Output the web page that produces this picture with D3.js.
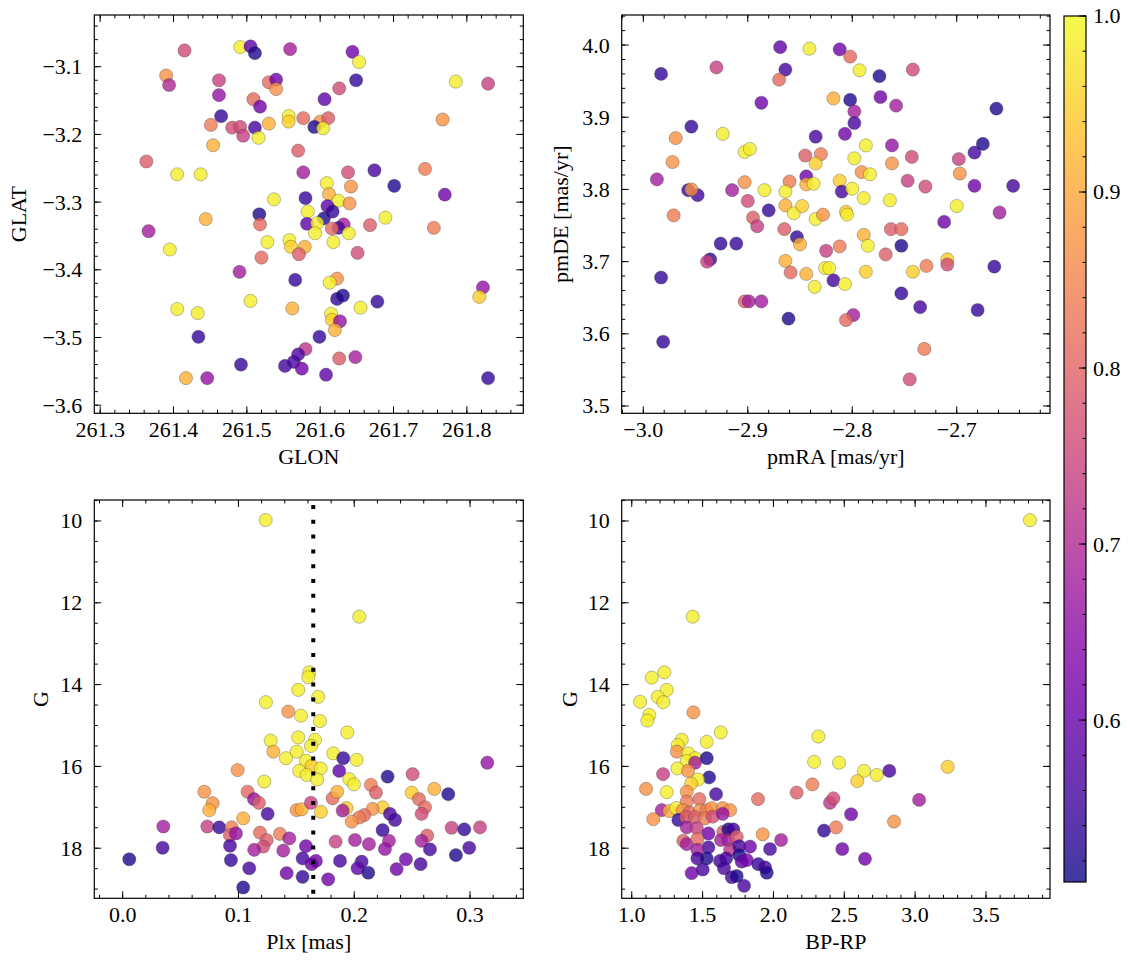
<!DOCTYPE html>
<html><head><meta charset="utf-8">
<script src="https://cdn.jsdelivr.net/npm/d3@7"></script>
<style>html,body{margin:0;padding:0;background:#fff;}svg{display:block;}
svg text{font-family:'Liberation Serif','DejaVu Serif',serif;font-size:22px;fill:#000;}</style>
</head><body>
<svg id="fig" width="1133" height="965"></svg>
<script>
// ---------- DATA: [x, y, membership probability] ----------
const glonGlat = [
[261.491,-3.071,0.985],[261.505,-3.070,0.59],[261.511,-3.080,0.52],[261.415,-3.076,0.76],[261.559,-3.074,0.68],
[261.390,-3.113,0.87],[261.394,-3.127,0.70],[261.462,-3.120,0.74],[261.462,-3.142,0.66],[261.530,-3.123,0.81],
[261.540,-3.119,0.61],[261.540,-3.133,0.87],[261.509,-3.148,0.81],[261.518,-3.159,0.61],[261.465,-3.173,0.54],
[261.451,-3.186,0.84],[261.480,-3.190,0.76],[261.491,-3.189,0.76],[261.495,-3.202,0.74],[261.511,-3.190,0.56],
[261.530,-3.184,0.91],[261.516,-3.205,0.985],[261.557,-3.173,0.985],[261.557,-3.181,0.95],[261.577,-3.176,0.81],
[261.600,-3.181,0.87],[261.592,-3.189,0.52],[261.454,-3.216,0.91],[261.570,-3.224,0.79],[261.363,-3.240,0.79],
[261.405,-3.259,0.985],[261.437,-3.259,0.985],[261.577,-3.256,0.68],[261.537,-3.296,0.985],[261.580,-3.294,0.54],
[261.517,-3.318,0.52],[261.444,-3.325,0.91],[261.518,-3.333,0.81],[261.583,-3.314,0.985],[261.582,-3.332,0.59],
[261.366,-3.343,0.68],[261.528,-3.359,0.985],[261.558,-3.356,0.985],[261.560,-3.366,0.95],[261.579,-3.366,0.91],
[261.571,-3.377,0.79],[261.395,-3.370,0.985],[261.520,-3.382,0.81],[261.490,-3.403,0.68],[261.566,-3.415,0.54],
[261.505,-3.446,0.985],[261.562,-3.457,0.91],[261.405,-3.458,0.985],[261.433,-3.464,0.985],[261.434,-3.499,0.54],
[261.580,-3.517,0.72],[261.492,-3.540,0.54],[261.552,-3.542,0.56],[261.564,-3.536,0.56],[261.570,-3.525,0.57],
[261.575,-3.546,0.61],[261.417,-3.560,0.91],[261.446,-3.560,0.66],
[261.644,-3.078,0.61],[261.653,-3.093,0.985],[261.649,-3.120,0.54],[261.626,-3.132,0.76],[261.606,-3.148,0.59],
[261.785,-3.122,0.985],[261.829,-3.125,0.74],[261.611,-3.176,0.79],[261.604,-3.191,0.985],[261.767,-3.178,0.87],
[261.638,-3.256,0.76],[261.674,-3.253,0.56],[261.743,-3.251,0.84],[261.609,-3.272,0.985],[261.642,-3.277,0.87],
[261.701,-3.276,0.52],[261.612,-3.288,0.91],[261.770,-3.289,0.61],[261.625,-3.298,0.985],[261.640,-3.302,0.87],
[261.610,-3.306,0.59],[261.617,-3.314,0.54],[261.605,-3.324,0.52],[261.596,-3.331,0.985],[261.632,-3.333,0.68],
[261.625,-3.338,0.56],[261.616,-3.339,0.81],[261.668,-3.334,0.79],[261.689,-3.323,0.985],[261.755,-3.338,0.84],
[261.593,-3.346,0.985],[261.639,-3.346,0.985],[261.618,-3.359,0.985],[261.651,-3.375,0.76],[261.623,-3.413,0.87],
[261.613,-3.419,0.985],[261.623,-3.443,0.54],[261.631,-3.438,0.52],[261.678,-3.447,0.54],[261.655,-3.456,0.985],
[261.615,-3.465,0.985],[261.616,-3.474,0.95],[261.627,-3.476,0.66],[261.620,-3.489,0.91],[261.599,-3.499,0.54],
[261.626,-3.531,0.79],[261.648,-3.529,0.68],[261.608,-3.555,0.59],[261.822,-3.426,0.66],[261.817,-3.440,0.95],
[261.829,-3.560,0.54]
];
const pmRaDe = [
[-2.869,3.997,0.59],[-2.841,3.995,0.985],[-2.930,3.969,0.74],[-2.864,3.966,0.56],[-2.983,3.960,0.54],
[-2.870,3.952,0.81],[-2.887,3.920,0.61],[-2.954,3.887,0.54],[-2.969,3.871,0.87],[-2.924,3.877,0.985],
[-2.835,3.873,0.56],[-2.972,3.838,0.87],[-2.903,3.852,0.985],[-2.898,3.856,0.985],[-2.845,3.847,0.79],
[-2.830,3.849,0.84],[-2.835,3.836,0.95],[-2.987,3.814,0.68],[-2.903,3.810,0.87],[-2.860,3.811,0.84],
[-2.844,3.818,0.61],[-2.844,3.807,0.91],[-2.837,3.808,0.985],[-2.957,3.799,0.54],[-2.948,3.792,0.56],
[-2.954,3.800,0.87],[-2.915,3.799,0.68],[-2.884,3.799,0.985],[-2.864,3.797,0.985],[-2.900,3.784,0.76],
[-2.864,3.778,0.91],[-2.856,3.767,0.985],[-2.848,3.777,0.95],[-2.880,3.771,0.54],[-2.895,3.761,0.79],
[-2.891,3.749,0.74],[-2.971,3.764,0.84],[-2.835,3.759,0.985],[-2.828,3.765,0.87],[-2.865,3.745,0.79],
[-2.853,3.734,0.54],[-2.850,3.724,0.91],[-2.825,3.715,0.74],[-2.926,3.725,0.54],[-2.911,3.725,0.54],
[-2.936,3.703,0.54],[-2.939,3.700,0.74],[-2.864,3.701,0.91],[-2.859,3.685,0.81],[-2.844,3.683,0.91],
[-2.836,3.665,0.985],[-2.826,3.691,0.985],[-2.822,3.691,0.985],[-2.983,3.678,0.54],[-2.903,3.645,0.79],
[-2.899,3.645,0.68],[-2.887,3.645,0.68],[-2.861,3.621,0.52],[-2.981,3.589,0.54],
[-2.802,3.984,0.81],[-2.793,3.965,0.985],[-2.774,3.957,0.52],[-2.742,3.966,0.76],[-2.802,3.924,0.52],
[-2.773,3.928,0.61],[-2.758,3.916,0.68],[-2.798,3.908,0.68],[-2.798,3.892,0.56],[-2.662,3.912,0.52],
[-2.812,3.994,0.61],[-2.818,3.926,0.91],[-2.807,3.877,0.61],[-2.787,3.861,0.985],[-2.762,3.861,0.66],
[-2.798,3.843,0.985],[-2.762,3.836,0.87],[-2.743,3.845,0.76],[-2.791,3.824,0.87],[-2.783,3.821,0.985],
[-2.698,3.842,0.74],[-2.683,3.851,0.56],[-2.675,3.863,0.52],[-2.697,3.822,0.87],[-2.812,3.812,0.95],
[-2.810,3.797,0.56],[-2.800,3.801,0.985],[-2.747,3.812,0.74],[-2.730,3.804,0.76],[-2.683,3.805,0.61],
[-2.646,3.805,0.56],[-2.789,3.788,0.985],[-2.764,3.785,0.985],[-2.806,3.769,0.95],[-2.805,3.765,0.985],
[-2.700,3.777,0.985],[-2.659,3.768,0.68],[-2.712,3.755,0.61],[-2.789,3.737,0.91],[-2.785,3.722,0.985],
[-2.763,3.745,0.79],[-2.753,3.745,0.81],[-2.753,3.722,0.52],[-2.812,3.721,0.84],[-2.768,3.710,0.79],
[-2.709,3.703,0.95],[-2.709,3.696,0.76],[-2.729,3.694,0.84],[-2.742,3.686,0.95],[-2.664,3.693,0.54],
[-2.787,3.686,0.95],[-2.818,3.674,0.56],[-2.807,3.669,0.985],[-2.753,3.656,0.54],[-2.735,3.637,0.56],
[-2.680,3.633,0.54],[-2.799,3.626,0.68],[-2.806,3.619,0.81],[-2.731,3.579,0.84],[-2.745,3.537,0.76]
];
const plxG = [
[0.1235,9.976,0.985],[0.0057,18.27,0.52],[0.0351,17.47,0.68],[0.0345,17.99,0.56],[0.1611,13.70,0.985],
[0.1603,13.82,0.985],[0.1516,14.13,0.985],[0.1689,14.30,0.985],[0.1237,14.43,0.985],[0.1430,14.66,0.87],
[0.1540,14.76,0.985],[0.1704,14.89,0.985],[0.1278,15.37,0.985],[0.1301,15.64,0.91],[0.1516,15.29,0.985],
[0.1661,15.35,0.985],[0.1626,15.50,0.985],[0.1503,15.64,0.985],[0.1410,15.80,0.985],[0.1583,15.86,0.985],
[0.1632,15.99,0.95],[0.1710,16.05,0.985],[0.1525,16.11,0.985],[0.1589,16.21,0.985],[0.1680,16.32,0.985],
[0.1819,15.68,0.985],[0.1905,15.80,0.54],[0.1870,16.11,0.59],[0.0993,16.09,0.87],[0.1223,16.37,0.985],
[0.0705,16.62,0.87],[0.1079,16.62,0.81],[0.0777,16.90,0.87],[0.0748,17.07,0.91],[0.1134,16.80,0.66],
[0.1177,16.89,0.79],[0.1041,17.27,0.91],[0.1252,17.16,0.56],[0.1503,17.07,0.87],[0.1546,17.05,0.91],
[0.1626,16.89,0.74],[0.1712,17.11,0.95],[0.1813,16.78,0.81],[0.0731,17.47,0.74],[0.0834,17.49,0.54],
[0.0941,17.49,0.84],[0.0927,17.68,0.79],[0.0978,17.64,0.66],[0.0927,17.94,0.56],[0.1186,17.62,0.81],
[0.1244,17.80,0.79],[0.1214,17.96,0.76],[0.1136,18.04,0.68],[0.1358,17.65,0.84],[0.1439,17.76,0.68],
[0.1387,18.06,0.68],[0.1583,17.95,0.61],[0.1839,17.84,0.74],[0.0935,18.29,0.54],[0.1554,18.25,0.56],
[0.1632,18.39,0.61],[0.1669,18.31,0.61],[0.1093,18.49,0.56],[0.1416,18.61,0.61],[0.1554,18.70,0.54],
[0.1775,18.76,0.61],[0.1041,18.96,0.52],[0.1877,18.31,0.56],[0.2043,12.34,0.985],[0.1940,15.17,0.985],
[0.2021,15.84,0.985],[0.1957,16.31,0.985],[0.1997,16.44,0.985],[0.2288,16.25,0.52],[0.2504,16.19,0.76],
[0.3149,15.91,0.66],[0.2144,16.45,0.84],[0.2187,16.64,0.79],[0.2496,16.64,0.95],[0.2559,16.80,0.81],
[0.2691,16.55,0.91],[0.2812,16.68,0.52],[0.1853,16.62,0.91],[0.1934,17.02,0.95],[0.1900,17.08,0.68],
[0.2245,17.00,0.95],[0.2159,17.04,0.87],[0.2086,17.19,0.81],[0.2043,17.25,0.84],[0.1978,17.35,0.87],
[0.2308,17.16,0.56],[0.2352,17.31,0.56],[0.2611,17.00,0.81],[0.2582,17.16,0.76],[0.2841,17.50,0.74],
[0.2950,17.54,0.54],[0.3086,17.49,0.74],[0.2245,17.56,0.54],[0.2300,17.82,0.68],[0.2265,18.02,0.66],
[0.2006,17.80,0.68],[0.2127,17.90,0.68],[0.2630,17.69,0.79],[0.2582,17.82,0.68],[0.2654,18.03,0.56],
[0.2993,17.99,0.56],[0.2878,18.17,0.52],[0.2064,18.33,0.56],[0.2029,18.49,0.59],[0.2121,18.60,0.52],
[0.2446,18.27,0.61],[0.2366,18.51,0.61],[0.2573,18.39,0.56]
];
const colorMag = [
[1.430,12.34,0.985],[1.230,13.70,0.985],[1.141,13.83,0.985],[1.247,14.13,0.985],[1.183,14.30,0.985],
[1.223,14.43,0.985],[1.059,14.42,0.985],[1.124,14.74,0.985],[1.110,14.88,0.985],[1.435,14.68,0.87],
[1.628,15.17,0.985],[1.353,15.35,0.985],[1.325,15.48,0.985],[1.529,15.40,0.985],[1.318,15.64,0.87],
[1.399,15.68,0.985],[1.447,15.80,0.985],[1.388,15.87,0.985],[1.529,15.80,0.52],[1.447,15.91,0.68],
[1.322,16.05,0.985],[1.397,16.11,0.87],[1.221,16.19,0.74],[1.546,16.27,0.52],[1.468,16.32,0.985],
[1.419,16.42,0.95],[1.101,16.55,0.87],[1.247,16.63,0.985],[1.388,16.62,0.87],[1.595,16.68,0.56],
[1.891,16.80,0.81],[2.164,16.64,0.79],[1.388,16.86,0.84],[1.477,16.80,0.81],[1.212,17.07,0.68],
[1.265,17.09,0.91],[1.313,17.02,0.985],[1.360,17.07,0.87],[1.407,17.13,0.81],[1.482,17.07,0.87],
[1.529,17.07,0.84],[1.565,17.02,0.87],[1.642,17.02,0.87],[1.694,17.07,0.87],[1.152,17.29,0.87],
[1.329,17.31,0.54],[1.383,17.24,0.79],[1.447,17.24,0.79],[1.517,17.27,0.84],[1.572,17.23,0.76],
[1.642,17.16,0.66],[1.388,17.49,0.68],[1.459,17.51,0.74],[1.541,17.64,0.61],[1.646,17.60,0.79],
[1.682,17.54,0.52],[1.717,17.54,0.56],[1.364,17.82,0.79],[1.388,17.90,0.68],[1.463,17.78,0.81],
[1.541,17.98,0.56],[1.630,17.80,0.68],[1.682,17.80,0.68],[1.741,17.72,0.79],[1.694,18.04,0.72],
[1.759,17.95,0.56],[1.835,17.96,0.61],[1.924,17.66,0.87],[2.054,17.80,0.68],[1.976,18.02,0.56],
[1.463,18.04,0.68],[1.463,18.25,0.56],[1.529,18.25,0.52],[1.623,18.31,0.56],[1.666,18.25,0.56],
[1.759,18.17,0.52],[1.776,18.33,0.59],[1.812,18.29,0.61],[1.893,18.39,0.54],[1.941,18.47,0.56],
[1.953,18.60,0.52],[1.501,18.52,0.56],[1.423,18.61,0.61],[1.651,18.49,0.56],[1.706,18.71,0.56],
[1.741,18.68,0.52],[1.793,18.92,0.56],[3.811,9.98,0.985],[2.317,15.27,0.985],[2.287,15.89,0.985],
[2.463,15.91,0.985],[2.639,16.11,0.985],[2.729,16.21,0.985],[2.818,16.11,0.56],[2.592,16.36,0.95],
[3.230,16.01,0.95],[2.275,16.44,0.84],[2.399,16.89,0.72],[2.423,16.78,0.76],[3.028,16.82,0.68],
[2.548,17.17,0.61],[2.357,17.57,0.54],[2.442,17.49,0.84],[2.851,17.35,0.87],[2.486,18.02,0.61],
[2.646,18.26,0.61]
];
const plxReference = [0.1646];
// tick labels
const glonTicks = [261.3,261.4,261.5,261.6,261.7,261.8];
const glatTicks = [-3.6,-3.5,-3.4,-3.3,-3.2,-3.1];
const pmraTicks = [-3.0,-2.9,-2.8,-2.7];
const pmdeTicks = [3.5,3.6,3.7,3.8,3.9,4.0];
const plxTicks = [0.0,0.1,0.2,0.3];
const gTicks = [10,12,14,16,18];
const bprpTicks = [1.0,1.5,2.0,2.5,3.0,3.5];
const cbTicks = [0.6,0.7,0.8,0.9,1.0];
const cbRange = [0.508, 1.0];

// ---------- DRAWING ----------
const svg = d3.select('#fig');
const color = d3.scaleSequential(d3.interpolatePlasma).domain(cbRange);
const fmtMinus = f => v => f(v).replace('-', '\u2212');

function minorVals(dom, step){
  const lo = Math.min(dom[0], dom[1]), hi = Math.max(dom[0], dom[1]);
  const out = [];
  for (let k = Math.ceil(lo/step - 1e-9); k <= Math.floor(hi/step + 1e-9); k++) out.push(k*step);
  return out;
}

let clipId = 0;
function panel(o){
  const g = svg.append('g');
  const x = d3.scaleLinear().domain(o.xDom).range([o.x0, o.x1]);
  const y = d3.scaleLinear().domain(o.yDom).range([o.y1, o.y0]);
  const id = 'clip' + (clipId++);
  svg.append('clipPath').attr('id', id).append('rect')
    .attr('x', o.x0).attr('y', o.y0).attr('width', o.x1-o.x0).attr('height', o.y1-o.y0);
  const pts = g.append('g').attr('clip-path', `url(#${id})`);
  pts.selectAll('circle').data(o.data).join('circle')
    .attr('cx', d => x(d[0])).attr('cy', d => y(d[1])).attr('r', 6.6)
    .attr('fill', d => color(d[2])).attr('fill-opacity', 0.8)
    .attr('stroke', '#333').attr('stroke-opacity', 0.45).attr('stroke-width', 0.7);
  if (o.extra) o.extra(g, x, y);
  const tk = g.append('g').attr('stroke', '#000').attr('stroke-width', 1);
  const xMin = minorVals(o.xDom, o.xMinor), yMin = minorVals(o.yDom, o.yMinor);
  xMin.forEach(v => { const px = x(v);
    tk.append('line').attr('x1', px).attr('x2', px).attr('y1', o.y1).attr('y2', o.y1-3.5);
    tk.append('line').attr('x1', px).attr('x2', px).attr('y1', o.y0).attr('y2', o.y0+3.5); });
  yMin.forEach(v => { const py = y(v);
    tk.append('line').attr('y1', py).attr('y2', py).attr('x1', o.x0).attr('x2', o.x0+3.5);
    tk.append('line').attr('y1', py).attr('y2', py).attr('x1', o.x1).attr('x2', o.x1-3.5); });
  o.xTicks.forEach(v => { const px = x(v);
    tk.append('line').attr('x1', px).attr('x2', px).attr('y1', o.y1).attr('y2', o.y1-7);
    tk.append('line').attr('x1', px).attr('x2', px).attr('y1', o.y0).attr('y2', o.y0+7); });
  o.yTicks.forEach(v => { const py = y(v);
    tk.append('line').attr('y1', py).attr('y2', py).attr('x1', o.x0).attr('x2', o.x0+7);
    tk.append('line').attr('y1', py).attr('y2', py).attr('x1', o.x1).attr('x2', o.x1-7); });
  g.append('rect').attr('x', o.x0).attr('y', o.y0).attr('width', o.x1-o.x0).attr('height', o.y1-o.y0)
    .attr('fill', 'none').attr('stroke', '#000').attr('stroke-width', 1.2);
  const tx = g.append('g');
  o.xTicks.forEach(v => tx.append('text').attr('x', x(v)).attr('y', o.y1+24)
    .attr('text-anchor', 'middle').text(o.xFmt(v)));
  o.yTicks.forEach(v => tx.append('text').attr('x', o.x0-12).attr('y', y(v)).attr('dy', '0.34em')
    .attr('text-anchor', 'end').text(o.yFmt(v)));
  tx.append('text').attr('x', (o.x0+o.x1)/2).attr('y', o.y1+51).attr('text-anchor', 'middle').text(o.xLabel);
  tx.append('text').attr('transform', `translate(${o.yLabelX},${(o.y0+o.y1)/2}) rotate(-90)`)
    .attr('text-anchor', 'middle').text(o.yLabel);
}

const L1 = 94.3, R1 = 523.3, L2 = 621.7, R2 = 1050, T1 = 15, B1 = 413.3, T2 = 500, B2 = 898.3;

panel({x0:L1, x1:R1, y0:T1, y1:B1, xDom:[261.292, 261.877], yDom:[-3.612, -3.0236],
  xTicks:glonTicks, yTicks:glatTicks, xMinor:0.02, yMinor:0.02,
  xFmt:d3.format('.1f'), yFmt:fmtMinus(d3.format('.1f')),
  xLabel:'GLON', yLabel:'GLAT', yLabelX:26, data:glonGlat});

panel({x0:L2, x1:R2, y0:T1, y1:B1, xDom:[-3.0207, -2.6107], yDom:[3.4899, 4.0416],
  xTicks:pmraTicks, yTicks:pmdeTicks, xMinor:0.02, yMinor:0.02,
  xFmt:fmtMinus(d3.format('.1f')), yFmt:d3.format('.1f'),
  xLabel:'pmRA [mas/yr]', yLabel:'pmDE [mas/yr]', yLabelX:568, data:pmRaDe});

panel({x0:L1, x1:R1, y0:T2, y1:B2, xDom:[-0.0245, 0.346], yDom:[19.225, 9.487],
  xTicks:plxTicks, yTicks:gTicks, xMinor:0.02, yMinor:0.5,
  xFmt:d3.format('.1f'), yFmt:d3.format('d'),
  xLabel:'Plx [mas]', yLabel:'G', yLabelX:48, data:plxG,
  extra:(g, x, y) => {
    g.selectAll('line.ref').data(plxReference).join('line').attr('class', 'ref')
      .attr('x1', d => x(d)).attr('x2', d => x(d)).attr('y1', T2+5).attr('y2', B2)
      .attr('stroke', '#000').attr('stroke-width', 4).attr('stroke-dasharray', '4 10.8');
  }});

panel({x0:L2, x1:R2, y0:T2, y1:B2, xDom:[0.929, 3.952], yDom:[19.225, 9.487],
  xTicks:bprpTicks, yTicks:gTicks, xMinor:0.1, yMinor:0.5,
  xFmt:d3.format('.1f'), yFmt:d3.format('d'),
  xLabel:'BP-RP', yLabel:'G', yLabelX:577, data:colorMag});

// ---------- COLORBAR ----------
const cbX = 1064, cbW = 22, cbT = 16, cbB = 882;
const cb = d3.scaleLinear().domain(cbRange).range([cbB, cbT]);
const defs = svg.append('defs');
const grad = defs.append('linearGradient').attr('id', 'cbgrad')
  .attr('x1', 0).attr('y1', 1).attr('x2', 0).attr('y2', 0);
d3.range(0, 1.0001, 0.05).forEach(t => grad.append('stop')
  .attr('offset', t).attr('stop-color', d3.interpolatePlasma(t)));
svg.append('rect').attr('x', cbX).attr('y', cbT).attr('width', cbW).attr('height', cbB-cbT)
  .attr('fill', 'url(#cbgrad)').attr('fill-opacity', 0.8);
const cbg = svg.append('g').attr('stroke', '#000').attr('stroke-width', 1);
minorVals(cbRange, 0.02).forEach(v => cbg.append('line')
  .attr('x1', cbX+cbW).attr('x2', cbX+cbW-3.5).attr('y1', cb(v)).attr('y2', cb(v)));
cbTicks.forEach(v => cbg.append('line')
  .attr('x1', cbX+cbW).attr('x2', cbX+cbW-7).attr('y1', cb(v)).attr('y2', cb(v)));
svg.append('rect').attr('x', cbX).attr('y', cbT).attr('width', cbW).attr('height', cbB-cbT)
  .attr('fill', 'none').attr('stroke', '#000').attr('stroke-width', 1.2);
const cbt = svg.append('g');
cbTicks.forEach(v => cbt.append('text').attr('x', cbX+cbW+7).attr('y', cb(v)).attr('dy', '0.34em')
  .text(d3.format('.1f')(v)));
</script>
</body></html>
